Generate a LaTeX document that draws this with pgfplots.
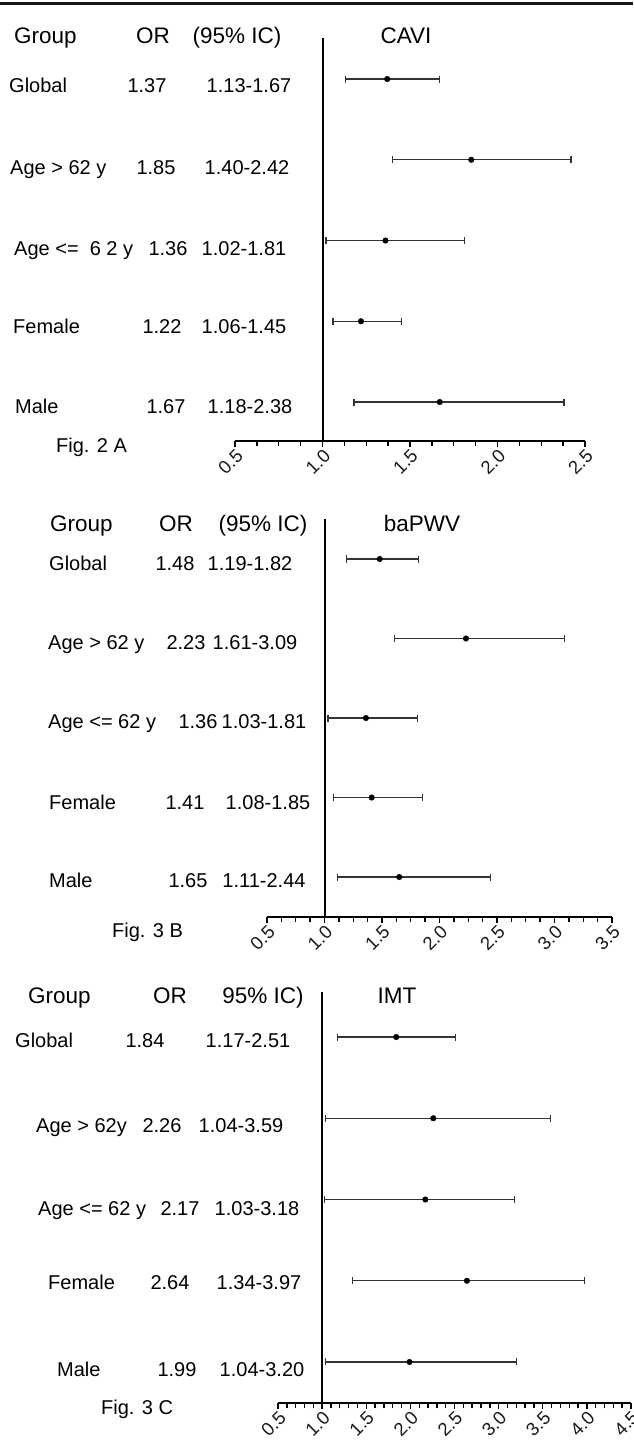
\documentclass[border=0pt]{standalone}
\usepackage{pgfplots}
\pgfplotsset{compat=1.18}
\usepackage{pgfplotstable}
\usepackage{fontspec}
\setmainfont{Liberation Sans}

\pgfplotstableread{
row or lo hi
5 1.37 1.13 1.67
4 1.85 1.40 2.42
3 1.36 1.02 1.81
2 1.22 1.06 1.45
1 1.67 1.18 2.38
}\dataA
\pgfplotstableread{
row or lo hi
5 1.48 1.19 1.82
4 2.23 1.61 3.09
3 1.36 1.03 1.81
2 1.41 1.08 1.85
1 1.65 1.11 2.44
}\dataB
\pgfplotstableread{
row or lo hi
5 1.84 1.17 2.51
4 2.26 1.04 3.59
3 2.17 1.03 3.18
2 2.64 1.34 3.97
1 1.99 1.04 3.20
}\dataC

\newcommand\hf{\fontsize{22.5}{27}\selectfont}
\newcommand\rf{\fontsize{20}{24}\selectfont}
\newcommand\tf{\fontsize{18.5}{18.5}\selectfont}

\pgfplotsset{forest/.style={
  scale only axis,
  anchor=south west,
  axis x line=bottom, axis y line=none,
  x axis line style={-, line width=2pt, black},
  xtick distance=0.5,
  tick style={black, line width=1.4pt},
  major tick length=6pt, minor tick length=5pt,
  tick align=outside,
  tick label style={font=\tf},
  xticklabel style={rotate=45, anchor=north east, inner sep=0.5pt, text=black!90},
  /pgf/number format/.cd, fixed, fixed zerofill, precision=1, assume math mode=true, /pgfplots/.cd,
  ytick=\empty,
  clip=false,
}}
\pgfplotsset{ortable/.style={
  only marks, black, mark=*, mark size=2.8pt,
  error bars/.cd, x dir=both, x explicit,
  error mark=|,
  error bar style={line width=1.1pt, color=black!80},
  error mark options={mark size=3.5pt, line width=1.1pt, black!80},
}}

\begin{document}
\begin{tikzpicture}
\useasboundingbox (0pt,0pt) rectangle (633pt,-1443pt);
\fill[white] (0pt,0pt) rectangle (633pt,-1443pt);
\clip (0pt,0pt) rectangle (633pt,-1443pt);
\fill[black!90] (0pt,-1.5pt) rectangle (633pt,-5pt);

% ---------- Panel A ----------
\begin{axis}[forest, at={(235pt,-441pt)}, width=350pt, height=403pt,
  xmin=0.5, xmax=2.5, ymin=0.517, ymax=5.508, minor x tick num=3]
\draw[line width=2pt, black] (axis cs:1,0.517) -- (axis cs:1,5.508);
\addplot[ortable] table[x=or, y=row,
  x error plus expr=\thisrow{hi}-\thisrow{or},
  x error minus expr=\thisrow{or}-\thisrow{lo}] {\dataA};
\end{axis}
\node[anchor=base west, inner sep=0pt] at (14pt,-43pt) {\hf Group};
\node[anchor=base, inner sep=0pt] at (153pt,-43pt) {\hf OR};
\node[anchor=base, inner sep=0pt] at (237pt,-43pt) {\hf (95\% IC)};
\node[anchor=base, inner sep=0pt] at (406pt,-43pt) {\hf CAVI};
\node[anchor=base west, inner sep=0pt] at (9pt,-92pt) {\rf Global};
\node[anchor=base, inner sep=0pt] at (147pt,-92pt) {\rf 1.37};
\node[anchor=base, inner sep=0pt] at (249pt,-92pt) {\rf 1.13-1.67};
\node[anchor=base west, inner sep=0pt] at (10pt,-174pt) {\rf Age > 62 y};
\node[anchor=base, inner sep=0pt] at (156pt,-174pt) {\rf 1.85};
\node[anchor=base, inner sep=0pt] at (247pt,-174pt) {\rf 1.40-2.42};
\node[anchor=base west, inner sep=0pt] at (14pt,-255pt) {\rf Age <= \ 6 2 y};
\node[anchor=base, inner sep=0pt] at (168pt,-255pt) {\rf 1.36};
\node[anchor=base, inner sep=0pt] at (244pt,-255pt) {\rf 1.02-1.81};
\node[anchor=base west, inner sep=0pt] at (13pt,-333pt) {\rf Female};
\node[anchor=base, inner sep=0pt] at (162pt,-333pt) {\rf 1.22};
\node[anchor=base, inner sep=0pt] at (244pt,-333pt) {\rf 1.06-1.45};
\node[anchor=base west, inner sep=0pt] at (15pt,-413pt) {\rf Male};
\node[anchor=base, inner sep=0pt] at (166pt,-413pt) {\rf 1.67};
\node[anchor=base, inner sep=0pt] at (250pt,-413pt) {\rf 1.18-2.38};
\node[anchor=base west, inner sep=0pt] at (56pt,-452pt) {\rf Fig. 2 A};

% ---------- Panel B ----------
\begin{axis}[forest, at={(267pt,-917pt)}, width=345pt, height=398pt,
  xmin=0.5, xmax=3.5, ymin=0.497, ymax=5.503, minor x tick num=3]
\draw[line width=2pt, black] (axis cs:1,0.497) -- (axis cs:1,5.503);
\addplot[ortable] table[x=or, y=row,
  x error plus expr=\thisrow{hi}-\thisrow{or},
  x error minus expr=\thisrow{or}-\thisrow{lo}] {\dataB};
\end{axis}
\node[anchor=base west, inner sep=0pt] at (50pt,-531pt) {\hf Group};
\node[anchor=base, inner sep=0pt] at (176pt,-531pt) {\hf OR};
\node[anchor=base, inner sep=0pt] at (263pt,-531pt) {\hf (95\% IC)};
\node[anchor=base, inner sep=0pt] at (422pt,-531pt) {\hf baPWV};
\node[anchor=base west, inner sep=0pt] at (49pt,-570pt) {\rf Global};
\node[anchor=base, inner sep=0pt] at (175pt,-570pt) {\rf 1.48};
\node[anchor=base, inner sep=0pt] at (250pt,-570pt) {\rf 1.19-1.82};
\node[anchor=base west, inner sep=0pt] at (48pt,-649pt) {\rf Age > 62 y};
\node[anchor=base, inner sep=0pt] at (186pt,-649pt) {\rf 2.23};
\node[anchor=base, inner sep=0pt] at (255pt,-649pt) {\rf 1.61-3.09};
\node[anchor=base west, inner sep=0pt] at (48pt,-728pt) {\rf Age <= 62 y};
\node[anchor=base, inner sep=0pt] at (198pt,-728pt) {\rf 1.36};
\node[anchor=base, inner sep=0pt] at (264pt,-728pt) {\rf 1.03-1.81};
\node[anchor=base west, inner sep=0pt] at (49pt,-809pt) {\rf Female};
\node[anchor=base, inner sep=0pt] at (185pt,-809pt) {\rf 1.41};
\node[anchor=base, inner sep=0pt] at (268pt,-809pt) {\rf 1.08-1.85};
\node[anchor=base west, inner sep=0pt] at (49pt,-887pt) {\rf Male};
\node[anchor=base, inner sep=0pt] at (188pt,-887pt) {\rf 1.65};
\node[anchor=base, inner sep=0pt] at (264pt,-887pt) {\rf 1.11-2.44};
\node[anchor=base west, inner sep=0pt] at (112pt,-937pt) {\rf Fig. 3 B};

% ---------- Panel C ----------
\begin{axis}[forest, at={(278pt,-1403pt)}, width=353pt, height=411pt,
  xmin=0.5, xmax=4.5, ymin=0.495, ymax=5.554, minor x tick num=4]
\draw[line width=2pt, black] (axis cs:1,0.495) -- (axis cs:1,5.554);
\addplot[ortable] table[x=or, y=row,
  x error plus expr=\thisrow{hi}-\thisrow{or},
  x error minus expr=\thisrow{or}-\thisrow{lo}] {\dataC};
\end{axis}
\node[anchor=base west, inner sep=0pt] at (28pt,-1003pt) {\hf Group};
\node[anchor=base, inner sep=0pt] at (170pt,-1003pt) {\hf OR};
\node[anchor=base, inner sep=0pt] at (263pt,-1003pt) {\hf 95\% IC)};
\node[anchor=base, inner sep=0pt] at (397pt,-1003pt) {\hf IMT};
\node[anchor=base west, inner sep=0pt] at (15pt,-1047pt) {\rf Global};
\node[anchor=base, inner sep=0pt] at (145pt,-1047pt) {\rf 1.84};
\node[anchor=base, inner sep=0pt] at (248pt,-1047pt) {\rf 1.17-2.51};
\node[anchor=base west, inner sep=0pt] at (36pt,-1132pt) {\rf Age > 62y};
\node[anchor=base, inner sep=0pt] at (162pt,-1132pt) {\rf 2.26};
\node[anchor=base, inner sep=0pt] at (241pt,-1132pt) {\rf 1.04-3.59};
\node[anchor=base west, inner sep=0pt] at (38pt,-1215pt) {\rf Age <= 62 y};
\node[anchor=base, inner sep=0pt] at (180pt,-1215pt) {\rf 2.17};
\node[anchor=base, inner sep=0pt] at (257pt,-1215pt) {\rf 1.03-3.18};
\node[anchor=base west, inner sep=0pt] at (48pt,-1289pt) {\rf Female};
\node[anchor=base, inner sep=0pt] at (170pt,-1289pt) {\rf 2.64};
\node[anchor=base, inner sep=0pt] at (259pt,-1289pt) {\rf 1.34-3.97};
\node[anchor=base west, inner sep=0pt] at (57pt,-1376pt) {\rf Male};
\node[anchor=base, inner sep=0pt] at (177pt,-1376pt) {\rf 1.99};
\node[anchor=base, inner sep=0pt] at (262pt,-1376pt) {\rf 1.04-3.20};
\node[anchor=base west, inner sep=0pt] at (101pt,-1414pt) {\rf Fig. 3 C};
\end{tikzpicture}
\end{document}
